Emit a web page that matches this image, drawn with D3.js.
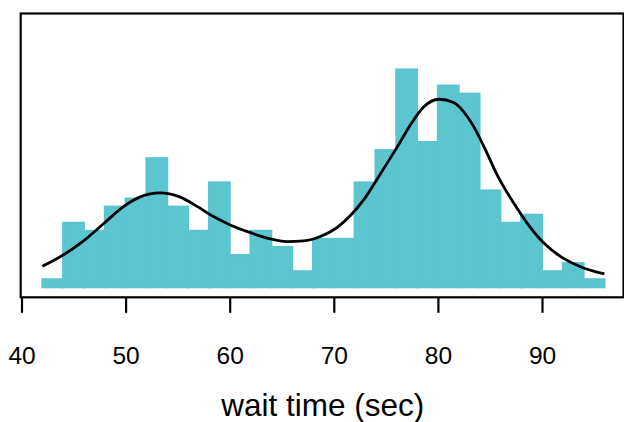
<!DOCTYPE html>
<html>
<head>
<meta charset="utf-8">
<script src="https://cdn.jsdelivr.net/npm/d3@7"></script>
<style>
  body { margin: 0; background: #fff; }
  svg { display: block; font-family: "Liberation Sans", Arial, Helvetica, sans-serif; }
</style>
</head>
<body>
<svg id="chart" width="624" height="422"></svg>
<script>
// histogram bins (2 sec wide) and their counts
var binStart = [42, 44, 46, 48, 50, 52, 54, 56, 58, 60, 62, 64, 66, 68, 70, 72, 74, 76, 78, 80, 82, 84, 86, 88, 90, 92, 94];
var binCount = [1, 8, 7, 10, 11, 16, 10, 7, 13, 4, 7, 5, 2, 6, 6, 13, 17, 27, 18, 25, 24, 12, 8, 9, 2, 3, 1];
var binWidth = 2;

// density curve (x = wait time, y = in count units)
var curveX = [42, 44, 45.9, 47.9, 49.8, 51.4, 53.3, 55.2, 56.9, 58.4, 60.1, 61.7, 63.6, 65.5, 67.1, 68.7, 70.3, 71.6, 72.9, 74.5, 76.1, 77.4, 78.6, 80.1, 81.5, 82.8, 83.4, 84.4, 85.7, 87.3, 88.6, 90.2, 91.8, 93.7, 96];
var curveY = [2.6, 4.0, 5.7, 7.9, 10.0, 11.2, 11.7, 11.2, 10.0, 8.8, 7.7, 6.9, 6.1, 5.65, 5.75, 6.3, 7.4, 8.9, 10.9, 14.1, 17.4, 20.2, 22.3, 23.3, 22.9, 21.2, 20.0, 17.5, 13.9, 10.4, 7.9, 5.45, 3.8, 2.55, 1.65];

var xTicks = [40, 50, 60, 70, 80, 90];

var svg = d3.select('#chart');

var x = d3.scaleLinear().domain([40, 90]).range([21.5, 542]);
var y = d3.scaleLinear().domain([0, 27]).range([287.3, 69.4]);

var barColor = '#5bc5d0';

// bars
svg.append('g')
    .selectAll('rect')
    .data(binStart)
    .enter()
    .append('rect')
    .attr('x', function(d){ return x(d); })
    .attr('width', function(d){ return x(d + binWidth) - x(d); })
    .attr('y', function(d, i){ return y(binCount[i]); })
    .attr('height', function(d, i){ return y(0) - y(binCount[i]); })
    .attr('fill', barColor)
    .attr('stroke', barColor)
    .attr('stroke-width', 2);

// density line
var pts = curveX.map(function(v, i){ return [v, curveY[i]]; });
var line = d3.line()
    .x(function(d){ return x(d[0]); })
    .y(function(d){ return y(d[1]); })
    .curve(d3.curveMonotoneX);

svg.append('path')
    .datum(pts)
    .attr('d', line)
    .attr('fill', 'none')
    .attr('stroke', '#000')
    .attr('stroke-width', 2.8)
    .attr('stroke-linejoin', 'round');

// frame
svg.append('rect')
    .attr('x', 20.7)
    .attr('y', 13.5)
    .attr('width', 623.5 - 20.7)
    .attr('height', 297.3 - 13.5)
    .attr('fill', 'none')
    .attr('stroke', '#000')
    .attr('stroke-width', 2.2);

// x axis
var axis = svg.append('g')
    .attr('transform', 'translate(0,297.3)')
    .call(d3.axisBottom(x).tickValues(xTicks).tickSize(15.5).tickPadding(0).tickFormat(d3.format('d')));

axis.select('.domain').remove();
axis.selectAll('.tick line').attr('stroke', '#000').attr('stroke-width', 2.2);
axis.selectAll('.tick text')
    .attr('y', 66.3)
    .attr('dy', null)
    .attr('fill', '#000')
    .style('font-size', '24.5px')
    .style('font-family', '"Liberation Sans", Arial, Helvetica, sans-serif');

// axis title
svg.append('text')
    .attr('x', 322.8)
    .attr('y', 416)
    .attr('text-anchor', 'middle')
    .style('font-size', '31.5px')
    .text('wait time (sec)');
</script>
</body>
</html>
